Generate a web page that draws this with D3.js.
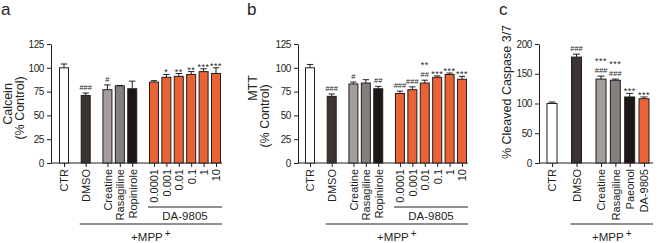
<!DOCTYPE html>
<html>
<head>
<meta charset="utf-8">
<script src="https://cdn.jsdelivr.net/npm/d3@7"></script>
<style>
    body { margin: 0; background: #fff; }
    svg text { font-family: "Liberation Sans", Arial, sans-serif; fill: #231f20; }
</style>
</head>
<body>
<svg id="chart" width="660" height="243"></svg>
<script>
// ---- values ----
// panel a : Calcein
const calceinLabels = ["CTR", "DMSO", "Creatine", "Rasagiline", "Ropinirole", "0.0001", "0.001", "0.01", "0.1", "1", "10"];
const calceinGroups = ["ctr", "dmso", "ref", "ref", "ref", "da", "da", "da", "da", "da", "da"];
const calceinMeans  = [100, 71, 77, 81, 78, 85, 90, 91, 93, 96, 94];
const calceinErrs   = [4, 2.5, 5, 0.5, 8, 1.5, 3, 3, 3, 3, 6];
const calceinHash   = ["", "###", "#", "", "", "", "", "", "", "", ""];
const calceinStars  = ["", "", "", "", "", "", "*", "**", "**", "***", "***"];

// panel b : MTT
const mttLabels = ["CTR", "DMSO", "Creatine", "Rasagiline", "Ropinirole", "0.0001", "0.001", "0.01", "0.1", "1", "10"];
const mttGroups = ["ctr", "dmso", "ref", "ref", "ref", "da", "da", "da", "da", "da", "da"];
const mttMeans  = [100, 70, 83, 84, 78, 73, 77, 84, 90, 93, 88];
const mttErrs   = [3.5, 2.5, 2, 3.5, 2.5, 2.5, 3, 3, 1.5, 1.5, 3];
const mttHash   = ["", "###", "#", "", "##", "###", "###", "##", "", "", ""];
const mttStars  = ["", "", "", "", "", "", "", "**", "***", "***", "***"];

// panel c : cleaved caspase 3/7
const caspLabels = ["CTR", "DMSO", "Creatine", "Rasagiline", "Paeonol", "DA-9805"];
const caspGroups = ["ctr", "dmso", "trt", "trt", "trt", "trt"];
const caspMeans  = [100, 178, 141, 139, 111, 108];
const caspErrs   = [2.5, 5, 5, 2, 6, 3];
const caspHash   = ["", "###", "###", "###", "", ""];
const caspStars  = ["", "", "***", "***", "***", "***"];

const ticksPct  = [0, 25, 50, 75, 100, 125];
const ticksCasp = [0, 50, 100, 150, 200];

// fill per treatment
var fills = {
    "CTR": "#ffffff",
    "DMSO": "#3b3431",
    "Creatine": "#a39d9c",
    "Rasagiline": "#877f7e",
    "Ropinirole": "#1c1715",
    "Paeonol": "#1c1715"
};
var orange = "#ea6335";
var ink = "#231f20";

var svg = d3.select("#chart");

function drawPanel(cfg) {
    var g = svg.append("g");

    // slot index for every bar, with a wider gap between groups
    var slots = [];
    var s = 0;
    cfg.groups.forEach(function (grp, i) {
        if (i > 0) {
            s += 1;
            if (grp !== cfg.groups[i - 1]) s += cfg.gap;
        }
        slots.push(s);
    });

    var x = d3.scaleLinear().domain([0, s]).range([cfg.x0, cfg.x1]);
    var y = d3.scaleLinear().domain([0, cfg.yMax]).range([163, 44]);

    // y axis
    var yAxis = g.append("g")
        .attr("transform", "translate(" + cfg.axisX + ",0)")
        .call(d3.axisLeft(y).tickValues(cfg.yTicks).tickSize(4).tickSizeOuter(0).tickPadding(3));
    yAxis.selectAll("path, line").attr("stroke", ink);
    yAxis.selectAll("text").style("font-size", "10px").style("letter-spacing", "-0.4px");

    // x axis: base line + ticks + rotated labels
    g.append("line")
        .attr("x1", cfg.axisX).attr("x2", cfg.xEnd)
        .attr("y1", y(0)).attr("y2", y(0))
        .attr("stroke", ink);

    var xAxis = g.append("g")
        .attr("transform", "translate(0," + y(0) + ")")
        .call(d3.axisBottom(x).tickValues(slots).tickSize(4)
            .tickFormat(function (d, i) { return cfg.labels[i]; }));
    xAxis.select(".domain").remove();
    xAxis.selectAll("line").attr("stroke", ink);
    xAxis.selectAll("text")
        .attr("transform", "rotate(-90)")
        .attr("x", -6)
        .attr("y", 0)
        .attr("dy", "0.35em")
        .style("text-anchor", "end")
        .style("font-size", "11px");

    // bars
    var bw = cfg.barWidth;
    g.selectAll(".bar").data(cfg.means).enter().append("rect")
        .attr("class", "bar")
        .attr("x", function (d, i) { return x(slots[i]) - bw / 2; })
        .attr("y", function (d) { return y(d); })
        .attr("width", bw)
        .attr("height", function (d) { return y(0) - y(d); })
        .attr("fill", function (d, i) { return fills[cfg.labels[i]] || orange; })
        .attr("stroke", ink)
        .attr("stroke-width", 1);

    // error bars (upper only)
    var cap = bw * 0.7;
    cfg.means.forEach(function (m, i) {
        var cx = x(slots[i]);
        var top = y(m + cfg.errs[i]);
        g.append("line").attr("x1", cx).attr("x2", cx).attr("y1", y(m)).attr("y2", top).attr("stroke", ink);
        g.append("line").attr("x1", cx - cap / 2).attr("x2", cx + cap / 2).attr("y1", top).attr("y2", top).attr("stroke", ink);

        // significance marks: stars on top, hashes below
        var hashBase = top - 3;
        if (cfg.hash[i]) {
            g.append("text").attr("x", cx).attr("y", hashBase)
                .attr("text-anchor", "middle").style("font-size", "7.5px").text(cfg.hash[i]);
        }
        if (cfg.stars[i]) {
            g.append("text").attr("x", cx).attr("y", cfg.hash[i] ? hashBase - 9 : top + 1)
                .attr("text-anchor", "middle")
                .style("font-size", "9px").style("letter-spacing", "0.5px")
                .text(cfg.stars[i]);
        }
    });

    // y titles (rotated)
    cfg.titles.forEach(function (t) {
        g.append("text")
            .attr("transform", "translate(" + (cfg.axisX + t.dx) + "," + t.cy + ") rotate(-90)")
            .attr("text-anchor", "middle")
            .attr("dy", "0.35em")
            .style("font-size", "12.5px")
            .text(t.text);
    });

    // brackets below the labels
    cfg.brackets.forEach(function (b) {
        var xa = x(slots[b.from]) - 6;
        var xb = cfg.xEnd;
        g.append("line").attr("x1", xa).attr("x2", xb).attr("y1", b.y).attr("y2", b.y).attr("stroke", ink);
        var t = g.append("text")
            .attr("x", (xa + xb) / 2)
            .attr("y", b.y + b.ty)
            .attr("text-anchor", "middle")
            .style("font-size", "11.5px");
        t.append("tspan").text(b.text);
        if (b.sup) {
            t.append("tspan").attr("dx", 2).attr("dy", -4).style("font-size", "10px").text(b.sup);
        }
    });

    // panel letter
    g.append("text")
        .attr("x", cfg.letterX).attr("y", 15)
        .style("font-size", "17px")
        .text(cfg.letter);
}

drawPanel({
    letter: "a", letterX: 1,
    labels: calceinLabels, groups: calceinGroups, means: calceinMeans, errs: calceinErrs,
    hash: calceinHash, stars: calceinStars,
    yMax: 125, yTicks: ticksPct,
    axisX: 51, x0: 64, x1: 216, xEnd: 222, gap: 0.75, barWidth: 9,
    titles: [{ text: "Calcein", dx: -43, cy: 104 }, { text: "(% Control)", dx: -31, cy: 108 }],
    brackets: [
        { from: 5, y: 207, ty: 13, text: "DA-9805" },
        { from: 1, y: 224, ty: 17, text: "+MPP", sup: "+" }
    ]
});

drawPanel({
    letter: "b", letterX: 247,
    labels: mttLabels, groups: mttGroups, means: mttMeans, errs: mttErrs,
    hash: mttHash, stars: mttStars,
    yMax: 125, yTicks: ticksPct,
    axisX: 298, x0: 310, x1: 462, xEnd: 468, gap: 0.75, barWidth: 9,
    titles: [{ text: "MTT", dx: -45, cy: 88 }, { text: "(% Control)", dx: -33, cy: 116 }],
    brackets: [
        { from: 5, y: 207, ty: 13, text: "DA-9805" },
        { from: 1, y: 224, ty: 17, text: "+MPP", sup: "+" }
    ]
});

drawPanel({
    letter: "c", letterX: 499,
    labels: caspLabels, groups: caspGroups, means: caspMeans, errs: caspErrs,
    hash: caspHash, stars: caspStars,
    yMax: 200, yTicks: ticksCasp,
    axisX: 539, x0: 552, x1: 644, xEnd: 653, gap: 0.71, barWidth: 10,
    titles: [{ text: "% Cleaved Caspase 3/7", dx: -32, cy: 92 }],
    brackets: [
        { from: 1, y: 224, ty: 17, text: "+MPP", sup: "+" }
    ]
});
</script>
</body>
</html>
